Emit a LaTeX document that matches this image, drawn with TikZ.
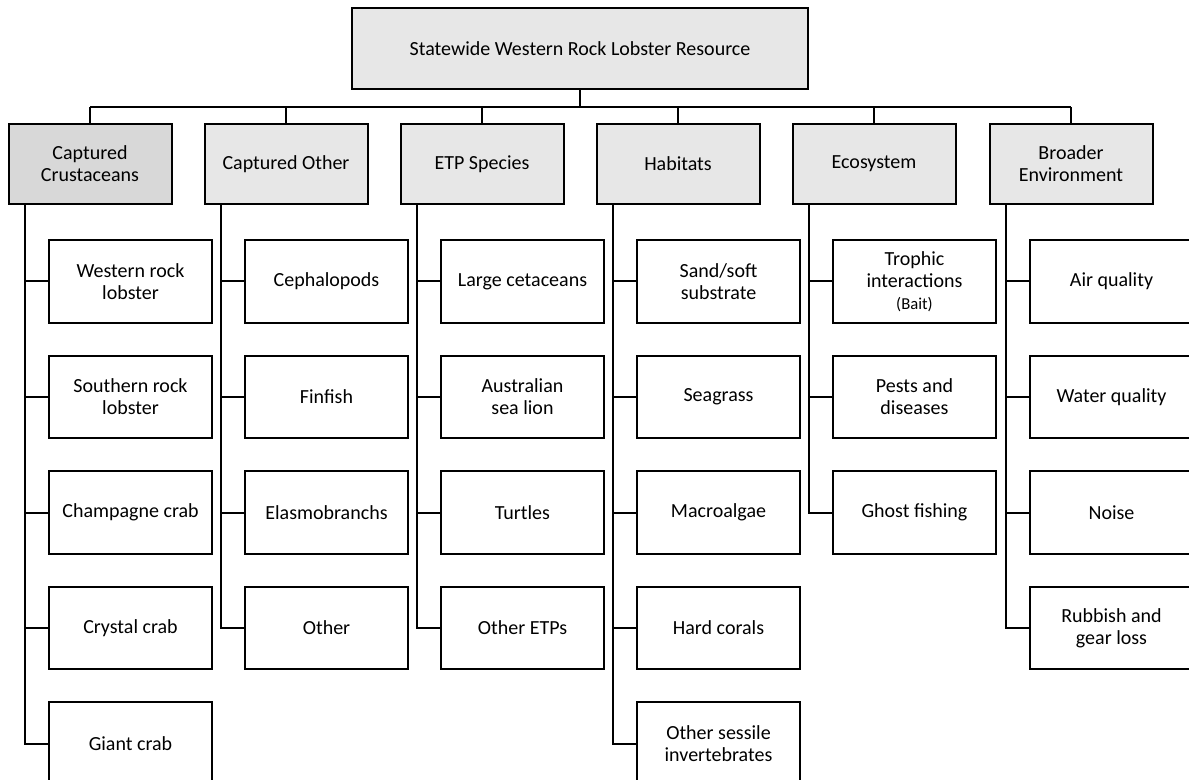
\documentclass[tikz,border=0pt]{standalone}
\usepackage{fontspec}
\setmainfont{Carlito}
\definecolor{boxgray}{RGB}{231,231,231}
\definecolor{darkgray}{RGB}{216,216,216}
\begin{document}
\begin{tikzpicture}[x=0.75pt,y=-0.75pt,
  every node/.style={font=\fontsize{15}{16.5}\selectfont, align=center, inner sep=0pt},
  topbox/.style={draw, line width=1.5pt, fill=boxgray, minimum width=342pt, minimum height=60.75pt},
  catbox/.style={draw, line width=1.5pt, fill=boxgray, minimum width=122.25pt, minimum height=60pt},
  leafbox/.style={draw, line width=1.5pt, fill=white, minimum width=122.25pt, minimum height=62pt},
  link/.style={line width=1.5pt}]
\useasboundingbox (0,0) rectangle (1189,780);
\clip (0,0) rectangle (1189,780);
\fill[white] (0,0) rectangle (1189,780);

\node[topbox] (top) at (580,48.5) {Statewide Western Rock Lobster Resource};

\node[catbox, fill=darkgray] (c1) at (90,164) {Captured\\Crustaceans};
\node[catbox] (c2) at (286,164) {Captured Other};
\node[catbox] (c3) at (482,164) {ETP Species};
\node[catbox] (c4) at (678,164) {Habitats};
\node[catbox] (c5) at (874,164) {Ecosystem};
\node[catbox] (c6) at (1071,164) {Broader\\Environment};

\coordinate (bus) at (0,107);
\draw[link] (top.south) -- (top.south |- bus);
\draw[link] (c1.north |- bus) -- (c6.north |- bus);
\foreach \i in {1,...,6}{\draw[link] (c\i.north) -- (c\i.north |- bus);}

% column 1
\node[leafbox] (l11) at (130.5,281.5) {Western rock\\lobster};
\node[leafbox] (l12) at (130.5,397) {Southern rock\\lobster};
\node[leafbox] (l13) at (130.5,512.5) {Champagne crab};
\node[leafbox] (l14) at (130.5,628) {Crystal crab};
\node[leafbox] (l15) at (130.5,743.5) {Giant crab};
% column 2
\node[leafbox] (l21) at (326.5,281.5) {Cephalopods};
\node[leafbox] (l22) at (326.5,397) {Finfish};
\node[leafbox] (l23) at (326.5,512.5) {Elasmobranchs};
\node[leafbox] (l24) at (326.5,628) {Other};
% column 3
\node[leafbox] (l31) at (522.5,281.5) {Large cetaceans};
\node[leafbox] (l32) at (522.5,397) {Australian\\sea lion};
\node[leafbox] (l33) at (522.5,512.5) {Turtles};
\node[leafbox] (l34) at (522.5,628) {Other ETPs};
% column 4
\node[leafbox] (l41) at (718.5,281.5) {Sand/soft\\substrate};
\node[leafbox] (l42) at (718.5,397) {Seagrass};
\node[leafbox] (l43) at (718.5,512.5) {Macroalgae};
\node[leafbox] (l44) at (718.5,628) {Hard corals};
\node[leafbox] (l45) at (718.5,743.5) {Other sessile\\invertebrates};
% column 5
\node[leafbox] (l51) at (914.5,281.5) {Trophic\\interactions\\{\fontsize{12.5}{16.5}\selectfont (Bait)}};
\node[leafbox] (l52) at (914.5,397) {Pests and\\diseases};
\node[leafbox] (l53) at (914.5,512.5) {Ghost fishing};
% column 6
\node[leafbox] (l61) at (1111.5,281.5) {Air quality};
\node[leafbox] (l62) at (1111.5,397) {Water quality};
\node[leafbox] (l63) at (1111.5,512.5) {Noise};
\node[leafbox] (l64) at (1111.5,628) {Rubbish and\\gear loss};

% trunks
\coordinate (t1) at ([xshift=12.75pt]c1.south west);
\coordinate (t2) at ([xshift=12.75pt]c2.south west);
\coordinate (t3) at ([xshift=12.75pt]c3.south west);
\coordinate (t4) at ([xshift=12.75pt]c4.south west);
\coordinate (t5) at ([xshift=12.75pt]c5.south west);
\coordinate (t6) at ([xshift=12.75pt]c6.south west);

\draw[link] (t1) |- (l15.west);
\draw[link] (t2) |- (l24.west);
\draw[link] (t3) |- (l34.west);
\draw[link] (t4) |- (l45.west);
\draw[link] (t5) |- (l53.west);
\draw[link] (t6) |- (l64.west);

\foreach \j in {1,...,4}{\draw[link] (l1\j.west) -- (l1\j.west -| t1);}
\foreach \j in {1,...,3}{\draw[link] (l2\j.west) -- (l2\j.west -| t2);}
\foreach \j in {1,...,3}{\draw[link] (l3\j.west) -- (l3\j.west -| t3);}
\foreach \j in {1,...,4}{\draw[link] (l4\j.west) -- (l4\j.west -| t4);}
\foreach \j in {1,...,2}{\draw[link] (l5\j.west) -- (l5\j.west -| t5);}
\foreach \j in {1,...,3}{\draw[link] (l6\j.west) -- (l6\j.west -| t6);}
\end{tikzpicture}
\end{document}
